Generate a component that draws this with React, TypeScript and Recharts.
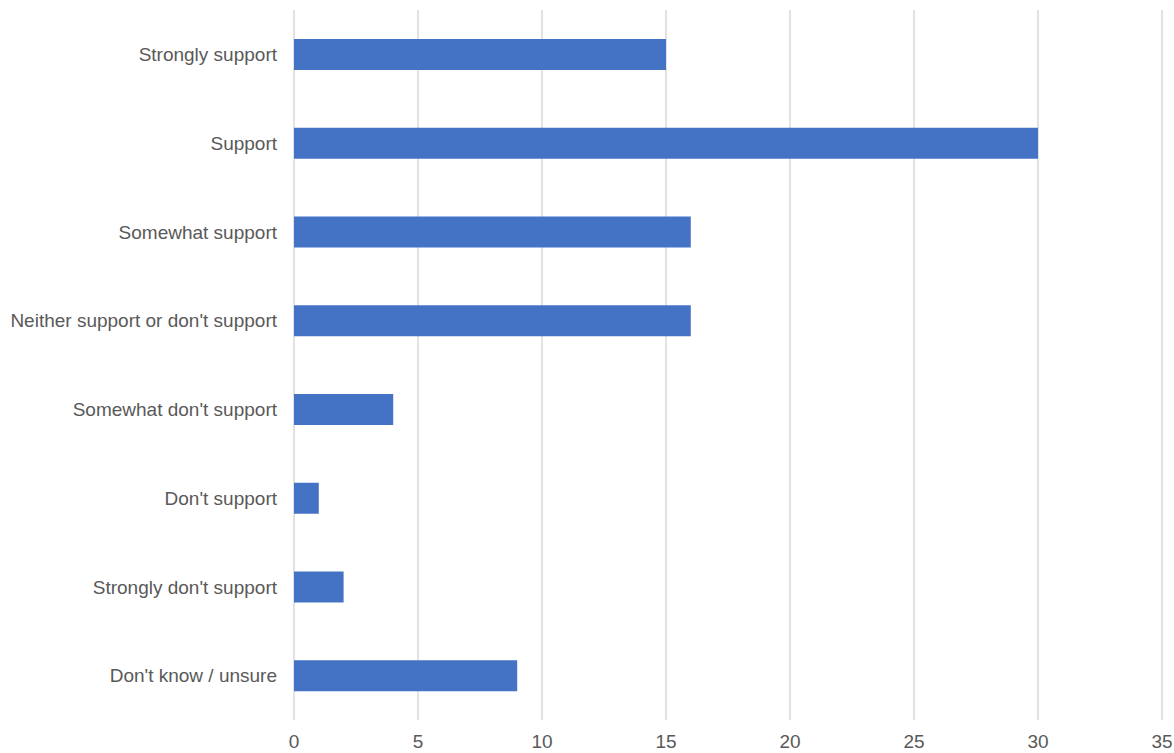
import { BarChart, Bar, XAxis, YAxis, CartesianGrid } from 'recharts';

const categories = [
  'Strongly support',
  'Support',
  'Somewhat support',
  "Neither support or don't support",
  "Somewhat don't support",
  "Don't support",
  "Strongly don't support",
  "Don't know / unsure",
];
const counts = [15, 30, 16, 16, 4, 1, 2, 9];
const xTicks = [0, 5, 10, 15, 20, 25, 30, 35];

const data = categories.map((name, i) => ({ name, value: counts[i] }));

const tickStyle = { fill: '#595959', fontSize: 19, fontFamily: '"Liberation Sans", Arial, sans-serif' };

export default function App() {
  return (
    <div style={{ position: 'absolute', left: 0, top: 0, background: '#fff' }}>
      <BarChart
        width={1174}
        height={753}
        data={data}
        layout="vertical"
        margin={{ top: 10, right: 12, left: 0, bottom: 0 }}
      >
        <CartesianGrid horizontal={false} stroke="#d9d9d9" strokeWidth={1.5} />
        <XAxis
          type="number"
          domain={[0, 35]}
          ticks={xTicks}
          axisLine={false}
          tickLine={false}
          tickSize={0}
          tickMargin={15}
          height={33}
          tick={tickStyle}
        />
        <YAxis
          type="category"
          dataKey="name"
          width={294}
          axisLine={false}
          tickLine={false}
          tickSize={0}
          tickMargin={17}
          tick={tickStyle}
          interval={0}
        />
        <Bar dataKey="value" fill="#4472c4" barSize={31} isAnimationActive={false} />
      </BarChart>
    </div>
  );
}
